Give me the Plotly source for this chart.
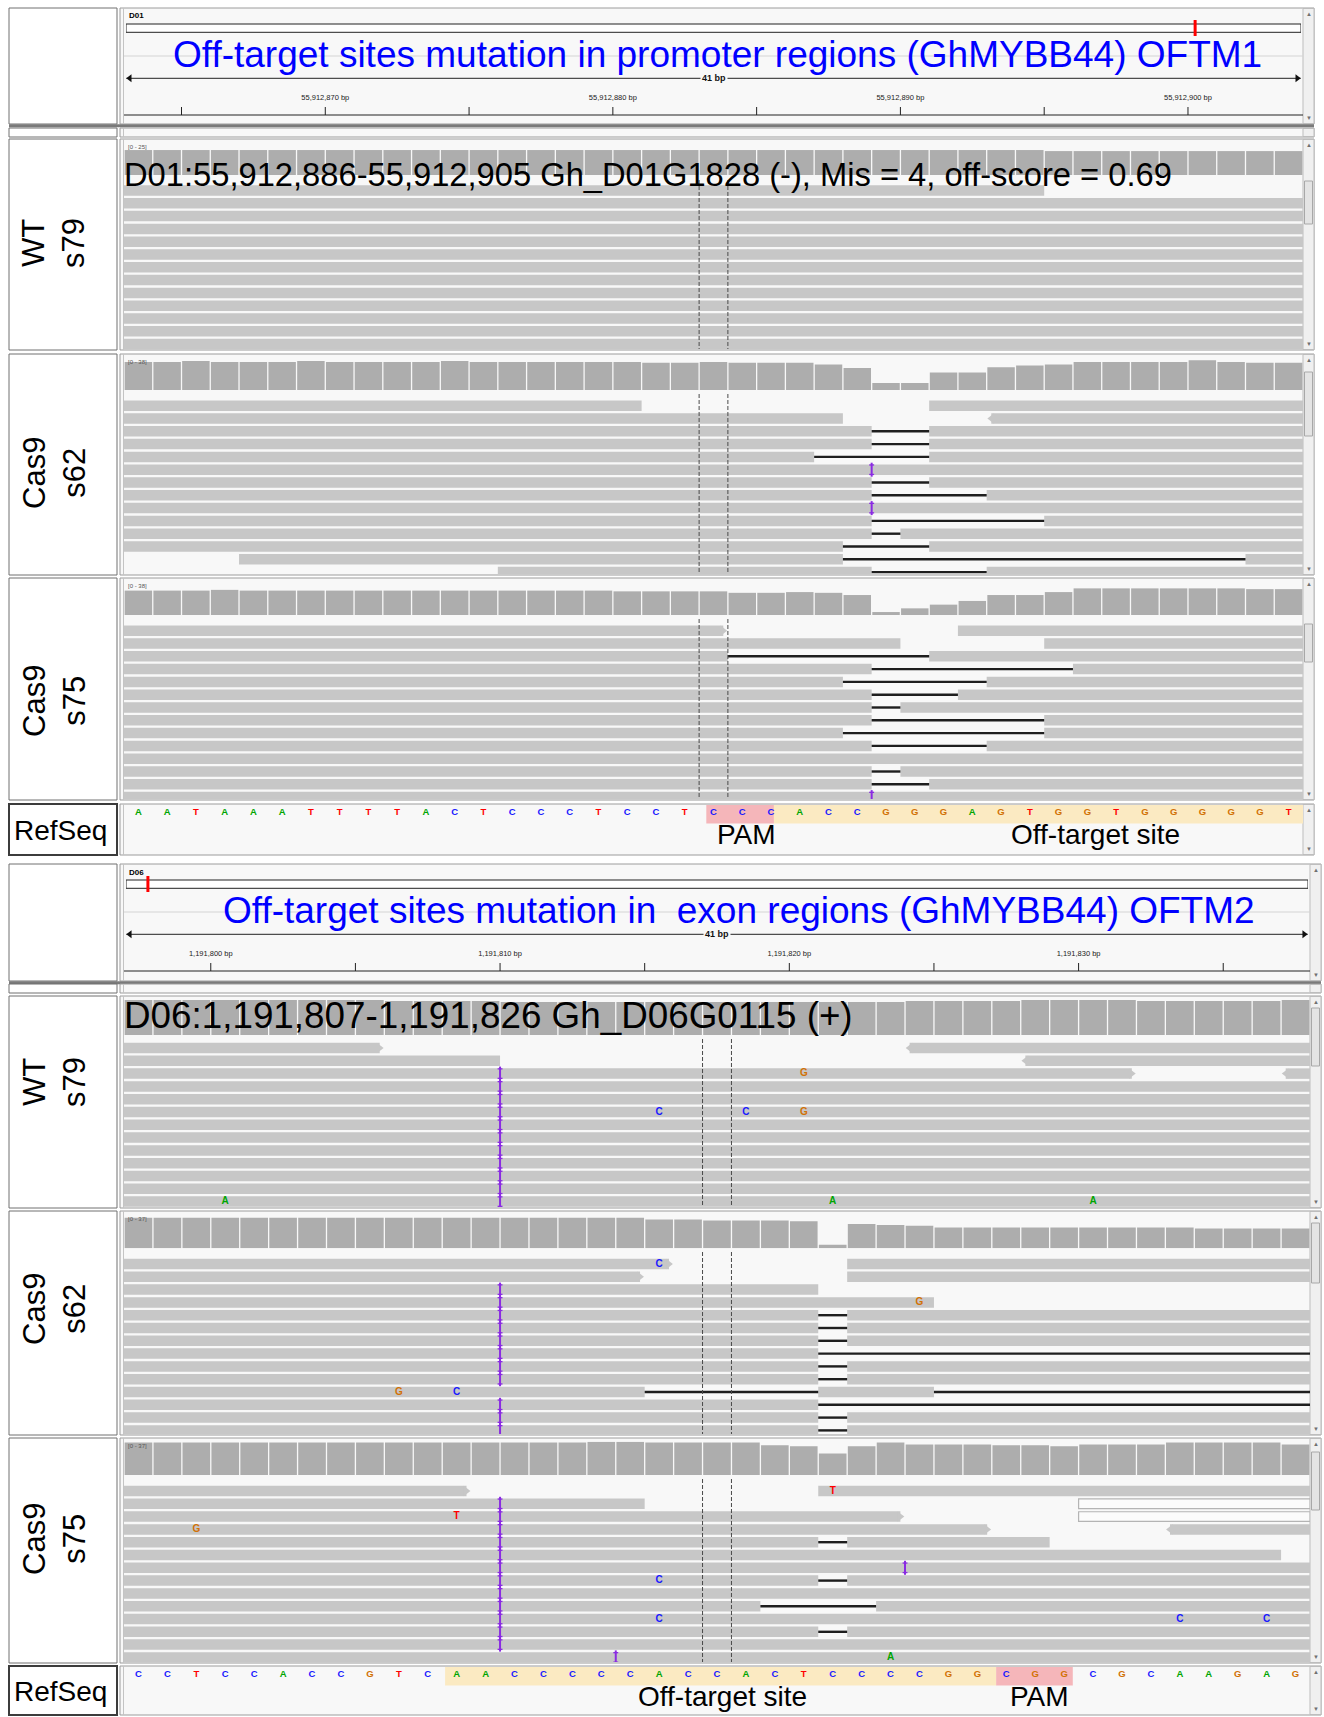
import plotly.graph_objects as go

W, H = 1324, 1717
NB = 41  # visible bases per view

# ======================= DATA =======================
base_colors = {"A": "rgb(0,165,0)", "C": "rgb(25,25,255)", "G": "rgb(209,113,5)", "T": "rgb(255,0,0)"}

# ---- view 1 : promoter off-target (OFTM1) ----
h1_chrom = "D01"
h1_chrom_len = 61_450_000
h1_start = 55_912_863
h1_title = "Off-target sites mutation in promoter regions (GhMYBB44) OFTM1"
h1_info = "D01:55,912,886-55,912,905 Gh_D01G1828 (-), Mis = 4, off-score = 0.69"
h1_seq = "AATAAATTTTACTCCCTCCTCCCACCGGGAGTGGTGGGGGT"
h1_pam = [20.25, 22.6]
h1_site = [22.6, 41.0]

# ---- view 2 : exon off-target (OFTM2) ----
h2_chrom = "D06"
h2_chrom_len = 64_300_000
h2_start = 1_191_797
h2_title = "Off-target sites mutation in\u00a0 exon regions (GhMYBB44) OFTM2"
h2_info = "D06:1,191,807-1,191,826 Gh_D06G0115 (+)"
h2_seq = "CCTCCACCGTCAACCCCCACCACTCCCCGGCGGCGCAAGAG"
h2_site = [11.1, 30.15]
h2_pam = [30.15, 32.8]

sample_labels = ["WT<br>s79", "Cas9<br>s62", "Cas9<br>s75"]

# coverage (reads per base, 41 bases)
wt1_cov = [24, 24, 24, 24, 24, 24, 24, 24, 24, 24, 24, 24, 24, 24, 24, 24, 24, 24, 24, 24, 24,
           24, 24, 24, 24, 24, 24, 24, 24, 24, 24, 24, 23, 23, 23, 23, 23, 23, 23, 23, 23]
c62_1_cov = [32, 32, 33, 32, 32, 32, 33, 32, 32, 32, 32, 33, 32, 32, 32, 32, 32,
             32, 31, 31, 32, 31, 31, 31, 29, 25, 8, 8, 20, 20, 26, 28, 29, 32, 32, 32, 32, 34, 32, 31, 31]
c75_1_cov = [33, 33, 33, 34, 33, 33, 33, 33, 33, 33, 33, 33, 33, 33, 33, 33, 33,
             32, 32, 32, 32, 30, 30, 31, 30, 27, 4, 9, 14, 19, 27, 27, 31, 36, 36, 36, 36, 36, 36, 35, 35]
wt2_cov = [35, 35, 35, 35, 35, 35, 35, 35, 35, 34, 34, 34, 34, 33, 33, 33, 33, 33, 33, 33, 33,
           33, 33, 33, 33, 33, 33, 34, 34, 34, 34, 35, 35, 35, 35, 34, 34, 34, 34, 34, 35]
c62_2_cov = [34, 34, 34, 34, 34, 34, 34, 34, 34, 34, 34, 34, 34, 34, 34, 34, 34, 34,
             32, 32, 31, 31, 31, 30, 4, 27, 26, 25, 23, 23, 23, 23, 23, 23, 23, 23, 23, 22, 22, 22, 22]
c75_2_cov = [36, 36, 36, 36, 36, 36, 36, 36, 36, 36, 36, 36, 36, 36, 36, 36, 37, 37,
             36, 36, 36, 36, 33, 32, 24, 32, 36, 34, 34, 34, 33, 33, 32, 34, 34, 34, 36, 36, 36, 36, 34]
cov_max = [25, 38, 38, 37, 37, 37]

# reads: (row, start, end) ; deletions: (row, start, end) ; insertions: (row, pos)
# strand tips: (row, pos, dir) ; mismatches: (row, pos, base)
wt1_reads = [(1, 0, 32), (2, 0, 41), (3, 0, 41), (4, 0, 41), (5, 0, 41), (6, 0, 41), (7, 0, 41),
             (8, 0, 41), (9, 0, 41), (10, 0, 41), (11, 0, 41), (12, 0, 41), (13, 0, 41)]

c62_1_reads = [(1, 0, 18), (1, 28, 41), (2, 0, 25), (2, 30, 41), (3, 0, 41), (4, 0, 41), (5, 0, 41),
               (6, 0, 41), (7, 0, 41), (8, 0, 41), (9, 0, 41), (10, 0, 41), (11, 0, 41), (12, 0, 41),
               (13, 4, 41), (14, 13, 41)]
c62_1_dels = [(3, 26, 28), (4, 26, 28), (5, 24, 28), (7, 26, 28), (8, 26, 30), (10, 26, 32),
              (11, 26, 27), (12, 25, 28), (13, 25, 39), (14, 26, 30)]
c62_1_ins = [(6, 26), (9, 26)]
c62_1_tips = [(2, 30, "l")]

c75_1_reads = [(1, 0, 21), (1, 29, 41), (2, 0, 27), (2, 32, 41), (3, 0, 41), (4, 0, 41), (5, 0, 41),
               (6, 0, 41), (7, 0, 41), (8, 0, 41), (9, 0, 41), (10, 0, 41), (11, 0, 41), (12, 0, 41),
               (13, 0, 41), (14, 0, 41)]
c75_1_dels = [(3, 21, 28), (4, 26, 33), (5, 25, 30), (6, 26, 29), (7, 26, 27), (8, 26, 32),
              (9, 25, 32), (10, 26, 30), (12, 26, 27), (13, 26, 28)]
c75_1_ins = [(14, 26)]
c75_1_tips = [(1, 21, "r")]

wt2_reads = [(1, 0, 9), (1, 27, 41), (2, 0, 13), (2, 31, 41), (3, 0, 35), (3, 40, 41), (4, 0, 41),
             (5, 0, 41), (6, 0, 41), (7, 0, 41), (8, 0, 41), (9, 0, 41), (10, 0, 41), (11, 0, 41),
             (12, 0, 41), (13, 0, 41)]
wt2_tips = [(1, 9, "r"), (1, 27, "l"), (2, 31, "l"), (3, 35, "r"), (3, 40, "l")]
wt2_ins = [(3, 13), (4, 13), (5, 13), (6, 13), (7, 13), (8, 13), (9, 13), (10, 13), (11, 13),
           (12, 13), (13, 13)]
wt2_mism = [(3, 23, "G"), (6, 18, "C"), (6, 21, "C"), (6, 23, "G"), (13, 3, "A"), (13, 24, "A"),
            (13, 33, "A")]

c62_2_reads = [(1, 0, 19), (1, 25, 41), (2, 0, 18), (2, 25, 41), (3, 0, 24), (4, 0, 28), (5, 0, 41),
               (6, 0, 41), (7, 0, 41), (8, 0, 41), (9, 0, 41), (10, 0, 41), (11, 0, 41), (12, 0, 41),
               (13, 0, 41), (14, 0, 41)]
c62_2_tips = [(1, 19, "r"), (2, 18, "r")]
c62_2_dels = [(5, 24, 25), (6, 24, 25), (7, 24, 25), (8, 24, 41), (9, 24, 25), (10, 24, 25),
              (11, 18, 24), (11, 28, 41), (12, 24, 41), (13, 24, 25), (14, 24, 25)]
c62_2_ins = [(3, 13), (4, 13), (5, 13), (6, 13), (7, 13), (8, 13), (9, 13), (10, 13), (12, 13),
             (13, 13), (14, 13)]
c62_2_mism = [(1, 18, "C"), (4, 27, "G"), (11, 9, "G"), (11, 11, "C")]

c75_2_reads = [(1, 0, 12), (1, 24, 41), (2, 0, 18), (3, 0, 27), (4, 0, 30), (4, 36, 41), (5, 0, 32),
               (6, 0, 40), (7, 0, 41), (8, 0, 41), (9, 0, 41), (10, 0, 41), (11, 0, 41), (12, 0, 41),
               (13, 0, 41), (14, 0, 41)]
c75_2_hollow = [(2, 33, 41), (3, 33, 41)]
c75_2_tips = [(1, 12, "r"), (3, 27, "r"), (4, 30, "r"), (4, 36, "l")]
c75_2_dels = [(5, 24, 25), (8, 24, 25), (10, 22, 26), (12, 24, 25)]
c75_2_ins = [(2, 13), (3, 13), (4, 13), (5, 13), (6, 13), (7, 13), (8, 13), (9, 13), (10, 13),
             (11, 13), (12, 13), (13, 13), (7, 27), (14, 17)]
c75_2_mism = [(1, 24, "T"), (3, 11, "T"), (4, 2, "G"), (8, 18, "C"), (11, 18, "C"), (11, 36, "C"),
              (11, 39, "C"), (14, 26, "A")]

# ======================= STYLE / LAYOUT =======================
FONT = "Liberation Sans, Arial, sans-serif"
NARROW = "Liberation Sans Narrow, Liberation Sans, Arial, sans-serif"
READ_C = "#c7c7c7"
COV_C = "#adadad"
BG = "#f8f8f8"
INS_C = "#8a2be2"
RS = 12.8          # pixel pitch of read rows
READ_H = 0.82      # read thickness (row units)

fig = go.Figure()
lay, shapes, anns = {}, [], []
ax_n = [0]


def dom_y(top, bot):
    return [1 - bot / H, 1 - top / H]


def dom_x(l, r):
    return [l / W, r / W]


def axes(xd, yd, xr, yr):
    ax_n[0] += 1
    n = ax_n[0]
    s = "" if n == 1 else str(n)
    base = dict(visible=False, fixedrange=True, showgrid=False, zeroline=False)
    lay["xaxis" + s] = dict(base, domain=xd, range=xr, anchor="y" + s)
    lay["yaxis" + s] = dict(base, domain=yd, range=yr, anchor="x" + s)
    return "x" + s, "y" + s


def prect(x0, y0, x1, y1, fill, line="rgba(0,0,0,0)", width=1):
    shapes.append(dict(type="rect", xref="paper", yref="paper", layer="below",
                       x0=x0 / W, x1=x1 / W, y0=1 - y1 / H, y1=1 - y0 / H,
                       fillcolor=fill, line=dict(color=line, width=width)))


def pline(x0, y0, x1, y1, color, width=1):
    shapes.append(dict(type="line", xref="paper", yref="paper", layer="below",
                       x0=x0 / W, x1=x1 / W, y0=1 - y0 / H, y1=1 - y1 / H,
                       line=dict(color=color, width=width)))


def ptext(x, y, text, size, color="black", xanchor="center", yanchor="middle", angle=0,
          family=FONT, bg=None):
    a = dict(xref="paper", yref="paper", x=x / W, y=1 - y / H, text=text, showarrow=False,
             font=dict(size=size, color=color, family=family), xanchor=xanchor,
             yanchor=yanchor, textangle=angle)
    if bg:
        a["bgcolor"] = bg
    anns.append(a)


def frame(top, bot, dr, thumb=None, label_line="#707070", label_w=1, arrows=True):
    prect(9, top, 117, bot, "white", label_line, label_w)
    prect(120, top, dr + 11, bot, BG, "#9c9c9c", 1)
    pline(123.5, top, 123.5, bot, "#c4c4c4", 1)
    prect(dr, top + 0.5, dr + 11, bot - 0.5, "#f0f0f0", "#bdbdbd", 1)
    if arrows:
        ptext(dr + 5.5, top + 6, "▲", 6, "#707070")
        ptext(dr + 5.5, bot - 6, "▼", 6, "#707070")
    if thumb:
        prect(dr + 1.5, top + thumb[0], dr + 9.5, top + thumb[1], "#e4e4e4", "#a8a8a8", 1)


def scat(xa, ya, **kw):
    fig.add_trace(go.Scatter(xaxis=xa, yaxis=ya, hoverinfo="skip", showlegend=False, **kw))


def draw_header(top, bot, dr, chrom, chrom_len, start, title, title_x):
    frame(top, bot, dr)
    ptext(127, top + 8, f"<b>{chrom}</b>", 8, xanchor="left")
    # chromosome ideogram
    xa, ya = axes(dom_x(126, dr - 2), dom_y(top + 12, top + 28), [0, chrom_len], [top + 28, top + 12])
    shapes.append(dict(type="rect", xref=xa, yref=ya, layer="below", x0=0, x1=chrom_len,
                       y0=top + 16, y1=top + 24.3, fillcolor="white",
                       line=dict(color="#222", width=1)))
    scat(xa, ya, x=[start + NB // 2], y=[top + 20], mode="markers",
         marker=dict(symbol="line-ns-open", size=12.5, color="red", line=dict(color="red", width=3)))
    pline(124, top + 48, dr, top + 48, "#d4d4d4", 1)
    ptext(title_x, top + 46, title, 37, "blue")
    # ruler (canvas in pixel units vertically)
    xa, ya = axes(dom_x(124, dr), dom_y(top, bot), [0, NB], [bot, top])
    tickvals, ticklabs = [], []
    for i in range(NB):
        g = start + i
        if g % 5 == 0:
            tickvals.append(i)
            ticklabs.append((i, f"{g:,} bp") if g % 10 == 0 else None)
    tx, ty = [0, NB, None], [top + 107, top + 107, None]
    for t in tickvals:
        tx += [t, t, None]
        ty += [top + 99, top + 107, None]
    scat(xa, ya, x=tx, y=ty, mode="lines", line=dict(color="#222", width=1))
    labs = [l for l in ticklabs if l]
    scat(xa, ya, x=[l[0] for l in labs], y=[top + 90] * len(labs), mode="text",
         text=[l[1] for l in labs], textfont=dict(size=7.5, family=NARROW, color="#222"))
    # span arrow
    scat(xa, ya, x=[0.08, NB - 0.08], y=[top + 70.3, top + 70.3], mode="lines",
         line=dict(color="#222", width=1))
    scat(xa, ya, x=[0.2, NB - 0.2], y=[top + 70.3, top + 70.3], mode="markers",
         marker=dict(symbol=["triangle-left", "triangle-right"], size=7, color="#111"))
    anns.append(dict(xref=xa, yref=ya, x=NB / 2, y=top + 70.3, text=f"<b>{NB} bp</b>",
                     showarrow=False, font=dict(size=9, family=NARROW, color="#111"),
                     bgcolor=BG, borderpad=1))


def split_reads(reads, dels):
    segs = []
    for (row, s, e) in reads:
        cuts = sorted((ds, de) for (r, ds, de) in dels if r == row and s <= ds < e)
        cur = s
        for ds, de in cuts:
            if ds > cur:
                segs.append([row, cur, ds])
            cur = max(cur, de)
        if e > cur:
            segs.append([row, cur, e])
    return segs


def draw_sample(top, bot, dr, label, g, cov, cmax, reads, dels=(), ins=(), tips=(), mism=(),
                hollow=()):
    frame(top, bot, dr, thumb=g["thumb"])
    ptext(54, g["label_y"], label, 31, angle=-90)
    xd = dom_x(124, dr)
    # coverage track
    xa, ya = axes(xd, dom_y(top + g["cov"][0], top + g["cov"][1]), [0, NB], [0, cmax])
    fig.add_trace(go.Bar(x=[i + 0.5 for i in range(NB)], y=cov, width=0.955, xaxis=xa, yaxis=ya,
                         marker=dict(color=COV_C, line=dict(width=0)), hoverinfo="skip",
                         showlegend=False))
    if g.get("range_label", True):
        ptext(126, top + 3, f"[0 - {cmax}]", 6, "#555", xanchor="left", yanchor="top")
    # alignments
    rt_px, rb_px = top + g["rtop"], bot - 1
    c1 = top + g["row1"]
    r_top = 1 - (c1 - rt_px) / RS
    r_bot = 1 + (rb_px - c1) / RS
    xa, ya = axes(xd, dom_y(rt_px, rb_px), [0, NB], [r_bot, r_top])
    segs = split_reads(reads, dels)
    tip_x, tip_y, tip_sym = [], [], []
    for (row, x, d) in tips:
        for sg in segs:
            if sg[0] == row and d == "r" and abs(sg[2] - x) < 1e-9:
                sg[2] = x - 0.16
                tip_x.append(x - 0.18); tip_y.append(row); tip_sym.append("triangle-right")
            if sg[0] == row and d == "l" and abs(sg[1] - x) < 1e-9:
                sg[1] = x + 0.16
                tip_x.append(x + 0.18); tip_y.append(row); tip_sym.append("triangle-left")
    fig.add_trace(go.Bar(orientation="h", y=[s[0] for s in segs], x=[s[2] - s[1] for s in segs],
                         base=[s[1] for s in segs], width=READ_H, xaxis=xa, yaxis=ya,
                         marker=dict(color=READ_C, line=dict(width=0)), hoverinfo="skip",
                         showlegend=False))
    if hollow:
        fig.add_trace(go.Bar(orientation="h", y=[h[0] for h in hollow],
                             x=[h[2] - h[1] for h in hollow], base=[h[1] for h in hollow],
                             width=READ_H - 0.06, xaxis=xa, yaxis=ya,
                             marker=dict(color="#fbfbfb", line=dict(width=1.2, color="#b4b4b4")),
                             hoverinfo="skip", showlegend=False))
    if tip_x:
        scat(xa, ya, x=tip_x, y=tip_y, mode="markers",
             marker=dict(symbol=tip_sym, size=9, color=READ_C, line=dict(width=0)))
    if dels:
        dx, dy = [], []
        for (r, ds, de) in dels:
            dx += [ds, de, None]
            dy += [r, r, None]
        scat(xa, ya, x=dx, y=dy, mode="lines", line=dict(color="#1e1e1e", width=2.4))
    # centre line (dashed)
    scat(xa, ya, x=[20, 20, None, 21, 21], y=[r_top, r_bot, None, r_top, r_bot], mode="lines",
         line=dict(color="#4a4a4a", width=1, dash="4px,2px"))
    if ins:
        ix = [p for (_, p) in ins]
        iy = [r for (r, _) in ins]
        scat(xa, ya, x=ix, y=iy, mode="markers",
             marker=dict(symbol="line-ns-open", size=10, color=INS_C,
                         line=dict(color=INS_C, width=2.0)))
        scat(xa, ya, x=ix + ix, y=[r - 0.37 for r in iy] + [r + 0.37 for r in iy], mode="markers",
             marker=dict(symbol="line-ew-open", size=3.5, color=INS_C,
                         line=dict(color=INS_C, width=1.3)))
    if mism:
        scat(xa, ya, x=[p + 0.5 for (_, p, _) in mism], y=[r for (r, _, _) in mism], mode="text",
             text=[f"<b>{b}</b>" for (_, _, b) in mism],
             textfont=dict(size=10, family=NARROW, color=[base_colors[b] for (_, _, b) in mism]))


def draw_refseq(top, bot, dr, seq, pam, site, pam_x, site_x):
    frame(top, bot, dr, label_line="#3c3c3c", label_w=2)
    ptext(60, (top + bot) / 2 + 1, "RefSeq", 28)
    xa, ya = axes(dom_x(124, dr), dom_y(top, bot), [0, NB], [bot, top])
    for (a, b), col in ((site, "#fbeac2"), (pam, "#f5b6ba")):
        shapes.append(dict(type="rect", xref=xa, yref=ya, layer="below", x0=a, x1=b,
                           y0=top + 1, y1=top + 19.5, fillcolor=col, line=dict(width=0)))
    scat(xa, ya, x=[i + 0.5 for i in range(len(seq))], y=[top + 9] * len(seq), mode="text",
         text=[f"<b>{c}</b>" for c in seq],
         textfont=dict(size=9.5, family=NARROW, color=[base_colors[c] for c in seq]))
    for txt, x in (("PAM", pam_x), ("Off-target site", site_x)):
        anns.append(dict(xref=xa, yref=ya, x=x, y=top + 30.5, text=txt, showarrow=False,
                         font=dict(size=28, family=FONT, color="black")))


# ---------------- geometry of the two stacked IGV views ----------------
views = [
    dict(header=(8, 124), blank=(128, 137), dr=1303, title_x=717,
         samples=[(139, 350), (354, 575), (578, 800)], refseq=(804, 855), info_y=175, info_size=32.7,
         geo=[dict(cov=(10, 36), rtop=41, row1=51.5, label_y=243, thumb=(42, 85)),
              dict(cov=(2.7, 36), rtop=40, row1=51.7, label_y=473, thumb=(18, 82)),
              dict(cov=(8.9, 37), rtop=41, row1=52.7, label_y=701, thumb=(46, 84))]),
    dict(header=(864, 981), blank=(984, 993), dr=1310, title_x=739,
         samples=[(996, 1208), (1211, 1435), (1438, 1663)], refseq=(1666, 1715), info_y=1015,
         info_size=36.8,
         geo=[dict(cov=(2, 39), rtop=43, row1=52, label_y=1082, thumb=(12, 70), range_label=False),
              dict(cov=(4, 37.3), rtop=41, row1=53, label_y=1309, thumb=(12, 72)),
              dict(cov=(3.7, 37), rtop=41, row1=53, label_y=1539, thumb=(14, 72))]),
]

view_data = [
    dict(chrom=h1_chrom, clen=h1_chrom_len, start=h1_start, title=h1_title, info=h1_info,
         seq=h1_seq, pam=h1_pam, site=h1_site, pam_x=21.65, site_x=33.8,
         samples=[dict(cov=wt1_cov, reads=wt1_reads),
                  dict(cov=c62_1_cov, reads=c62_1_reads, dels=c62_1_dels, ins=c62_1_ins,
                       tips=c62_1_tips),
                  dict(cov=c75_1_cov, reads=c75_1_reads, dels=c75_1_dels, ins=c75_1_ins,
                       tips=c75_1_tips)]),
    dict(chrom=h2_chrom, clen=h2_chrom_len, start=h2_start, title=h2_title, info=h2_info,
         seq=h2_seq, pam=h2_pam, site=h2_site, pam_x=31.65, site_x=20.7,
         samples=[dict(cov=wt2_cov, reads=wt2_reads, ins=wt2_ins, tips=wt2_tips, mism=wt2_mism),
                  dict(cov=c62_2_cov, reads=c62_2_reads, dels=c62_2_dels, ins=c62_2_ins,
                       tips=c62_2_tips, mism=c62_2_mism),
                  dict(cov=c75_2_cov, reads=c75_2_reads, dels=c75_2_dels, ins=c75_2_ins,
                       tips=c75_2_tips, mism=c75_2_mism, hollow=c75_2_hollow)]),
]

k = 0
for v, d in zip(views, view_data):
    dr = v["dr"]
    ht, hb = v["header"]
    draw_header(ht, hb, dr, d["chrom"], d["clen"], d["start"], d["title"], v["title_x"])
    pline(9, hb + 1.8, dr + 11, hb + 1.8, "#7a7a7a", 3)
    frame(v["blank"][0], v["blank"][1], dr, arrows=False)
    for j, ((st, sb), g, smp) in enumerate(zip(v["samples"], v["geo"], d["samples"])):
        draw_sample(st, sb, dr, sample_labels[j], g, smp["cov"], cov_max[k], smp["reads"],
                    dels=smp.get("dels", ()), ins=smp.get("ins", ()), tips=smp.get("tips", ()),
                    mism=smp.get("mism", ()), hollow=smp.get("hollow", ()))
        k += 1
    ptext(122, v["info_y"], d["info"], v["info_size"], "black", xanchor="left")
    draw_refseq(v["refseq"][0], v["refseq"][1], dr, d["seq"], d["pam"], d["site"],
                d["pam_x"], d["site_x"])

fig.update_layout(width=W, height=H, margin=dict(l=0, r=0, t=0, b=0), paper_bgcolor="white",
                  plot_bgcolor="rgba(0,0,0,0)", showlegend=False, barmode="overlay",
                  shapes=shapes, annotations=anns, **lay)
fig.write_html("out.html")
